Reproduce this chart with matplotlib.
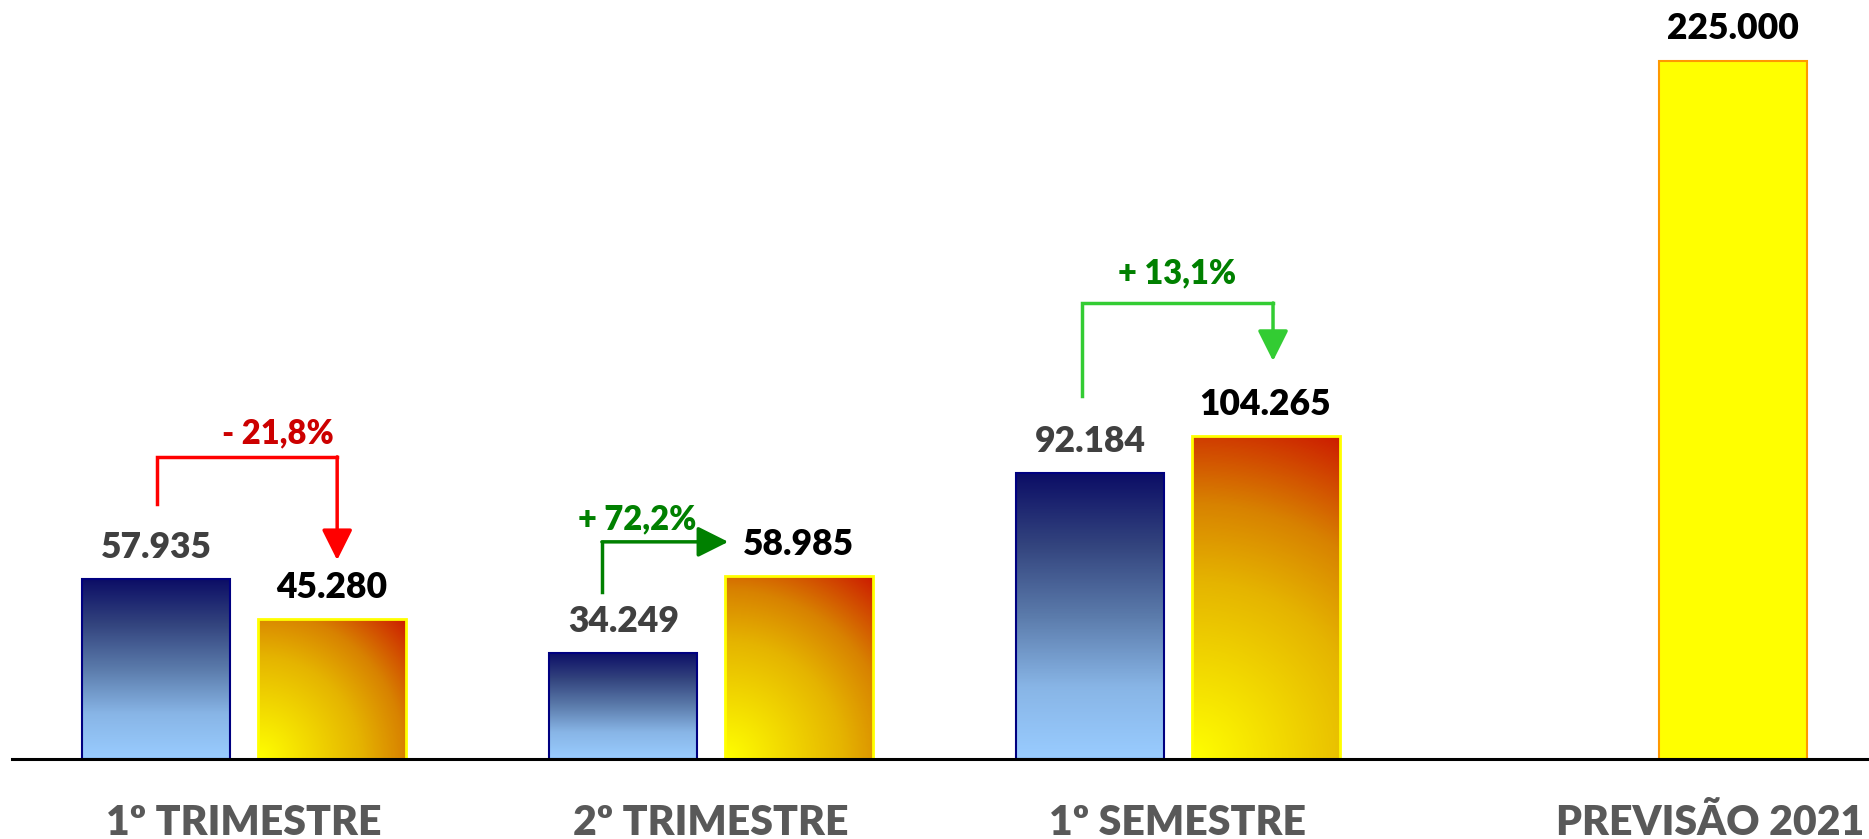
import numpy as np
import matplotlib.pyplot as plt
import matplotlib.transforms as mtransforms
from matplotlib.colors import LinearSegmentedColormap

# ---- Data ---- #
categories = ["1º TRIMESTRE", "2º TRIMESTRE", "1º SEMESTRE", "PREVISÃO 2021"]
values_2020 = [57935, 34249, 92184]
values_2021 = [45280, 58985, 104265]
forecast_2021 = 225000
labels_2020 = ["57.935", "34.249", "92.184"]
labels_2021 = ["45.280", "58.985", "104.265"]
forecast_label = "225.000"
change_labels = ["- 21,8%", "+ 72,2%", "+ 13,1%"]

# connector arrows (value levels): start above blue bar, bend, arrow tip
arrow_start = [82200, 53800, 117000]
arrow_bend = [97400, 70000, 147000]
arrow_tip = [64100, 70000, 128300]
arrow_kind = ["down", "right", "down"]
arrow_colors = ["#ff0000", "#008000", "#33cc33"]
change_colors = ["#cc0000", "#008000", "#008000"]

# ---- Style ---- #
plt.rcParams['font.family'] = ['Lato', 'DejaVu Sans']
WEIGHT = "heavy"

W, H = 1869, 839
fig = plt.figure(figsize=(W / 100, H / 100), dpi=100)
ax = fig.add_axes([12 / W, 80 / H, 1857 / W, 759 / H])

bar_w = 0.317
off = 0.1875
x = np.arange(len(values_2020))

blue_bars = ax.bar(x - off, values_2020, bar_w, facecolor="none",
                   edgecolor="#000080", linewidth=1.5, zorder=3)
orange_bars = ax.bar(x + off, values_2021, bar_w, facecolor="none",
                     edgecolor="#ffff00", linewidth=2, zorder=3)
fc_bar = ax.bar([3 + off], [forecast_2021], bar_w, facecolor="#ffff00",
                edgecolor="#ff9900", linewidth=1.5, zorder=3)

ax.set_xlim(-0.4968, 3.4797)
ax.set_ylim(0, 244664)
for s in ["top", "right", "left"]:
    ax.spines[s].set_visible(False)
ax.spines["bottom"].set_linewidth(2.2)
ax.spines["bottom"].set_zorder(5)
ax.set_xticks([])
ax.set_yticks([])

# ---- Gradient fills ---- #
blue_cmap = LinearSegmentedColormap.from_list(
    "blue", [(0, "#99ccff"), (0.25, "#88b5e6"), (0.5, "#5b7bab"),
             (0.75, "#33447e"), (1, "#0c0e66")])
fire_cmap = LinearSegmentedColormap.from_list(
    "fire", [(0, "#ffff00"), (0.5, "#e5b400"), (0.72, "#d88200"), (1, "#cc1a00")])


def px_size(rect):
    x0, y0 = ax.transData.transform((rect.get_x(), 0))
    x1, y1 = ax.transData.transform((rect.get_x() + rect.get_width(), rect.get_height()))
    return x1 - x0, y1 - y0


for rect in blue_bars:
    t = np.linspace(0, 1, 200).reshape(-1, 1) * np.ones((1, 10))
    im = ax.imshow(t, cmap=blue_cmap, origin="lower", aspect="auto",
                   extent=(rect.get_x(), rect.get_x() + rect.get_width(), 0, rect.get_height()),
                   zorder=2, vmin=0, vmax=1)
    im.set_clip_path(rect)

for rect in orange_bars:
    wpx, hpx = px_size(rect)
    X, Y = np.meshgrid(np.linspace(0, wpx, 150), np.linspace(0, hpx, 300))
    t = np.sqrt(X ** 2 + Y ** 2) / np.sqrt(wpx ** 2 + hpx ** 2)
    im = ax.imshow(t, cmap=fire_cmap, origin="lower", aspect="auto",
                   extent=(rect.get_x(), rect.get_x() + rect.get_width(), 0, rect.get_height()),
                   zorder=2, vmin=0, vmax=1)
    im.set_clip_path(rect)

ax.set_xlim(-0.4968, 3.4797)
ax.set_ylim(0, 244664)

# ---- Value labels ---- #
for xi, v, lab in zip(x - off, values_2020, labels_2020):
    ax.annotate(lab, (xi, v), xytext=(0, 15), textcoords="offset points",
                ha="center", va="baseline", fontsize=25.5, color="#404040",
                fontweight=WEIGHT, annotation_clip=False)
for xi, v, lab in zip(x + off, values_2021, labels_2021):
    ax.annotate(lab, (xi, v), xytext=(0, 15), textcoords="offset points",
                ha="center", va="baseline", fontsize=25.5, color="black",
                fontweight=WEIGHT, annotation_clip=False)
ax.annotate(forecast_label, (3 + off, forecast_2021), xytext=(0, 16),
            textcoords="offset points", ha="center", va="baseline",
            fontsize=25.5, color="black", fontweight=WEIGHT, annotation_clip=False)

# ---- Change arrows ---- #
start_dx = [0.002, -0.046, -0.018]   # arrow start relative to blue bar centre
end_dx = [0.012, 0.0, 0.016]         # arrow drop relative to orange bar centre
label_dx = [0.073, -0.157, -0.001]   # label centre relative to group
label_dy = [10, 9, 14]               # points above the bend line
for i in range(len(values_2020)):
    bx = x[i] - off + start_dx[i]
    ox = x[i] + off + end_dx[i]
    c = arrow_colors[i]
    head = dict(arrowstyle="-|>,head_length=0.94,head_width=0.47",
                mutation_scale=20, color=c, lw=2.5, shrinkA=0, shrinkB=0)
    if arrow_kind[i] == "down":
        ax.plot([bx, bx, ox], [arrow_start[i], arrow_bend[i], arrow_bend[i]],
                color=c, lw=2.5, solid_joinstyle="miter", zorder=4)
        ax.annotate("", xy=(ox, arrow_tip[i]), xytext=(ox, arrow_bend[i]),
                    arrowprops=head, zorder=4)
    else:
        tip_x = x[i] + off - bar_w / 2 + 0.008
        ax.plot([bx, bx], [arrow_start[i], arrow_bend[i]], color=c, lw=2.5, zorder=4)
        ax.annotate("", xy=(tip_x, arrow_bend[i]), xytext=(bx, arrow_bend[i]),
                    arrowprops=head, zorder=4)
    ax.annotate(change_labels[i], (x[i] + label_dx[i], arrow_bend[i]),
                xytext=(0, label_dy[i]), textcoords="offset points",
                ha="center", va="baseline", fontsize=23.5, color=change_colors[i],
                fontweight=WEIGHT, annotation_clip=False)

# ---- Category labels ---- #
trans = mtransforms.blended_transform_factory(ax.transData, fig.transFigure)
cat_x = [0, 1, 2, 3.14]
for cx, cat in zip(cat_x, categories):
    ax.text(cx, 4 / H, cat, transform=trans, ha="center", va="baseline",
            fontsize=29.5, color="#595959", fontweight=WEIGHT, clip_on=False)

fig.savefig("out.png", dpi=100)
